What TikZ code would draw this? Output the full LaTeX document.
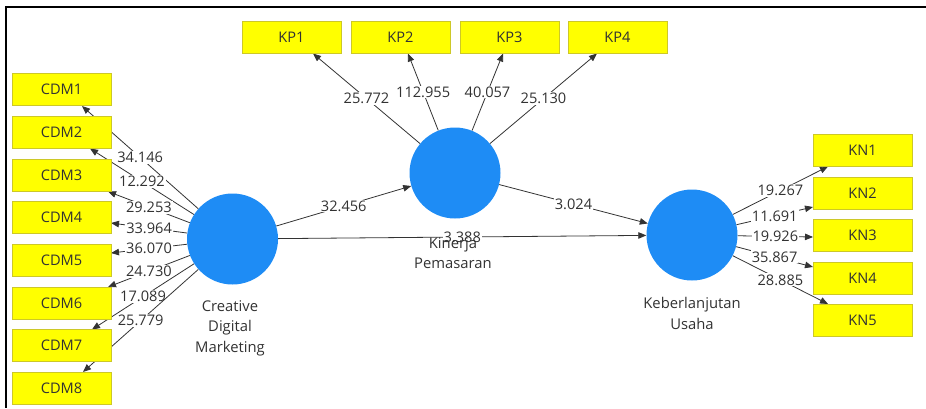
\documentclass[tikz,border=0pt]{standalone}
\usepackage{fontspec}
\setmainfont{Open Sans}
\usetikzlibrary{arrows.meta}
\definecolor{lvblue}{RGB}{30,140,245}
\definecolor{boxyellow}{RGB}{255,255,0}
\definecolor{boxedge}{RGB}{205,200,40}
\definecolor{txt}{RGB}{50,50,50}
\pgfdeclarelayer{bg}
\pgfsetlayers{bg,main}
\begin{document}
\begin{tikzpicture}[x=1pt,y=-1pt,
 ind/.style={draw=boxedge, fill=boxyellow, line width=0.8pt, minimum width=99pt, minimum height=32pt, inner sep=0pt, text=txt, font=\fontsize{14.6}{16}\selectfont},
 lv/.style={circle, fill=lvblue, minimum size=91pt, inner sep=0pt},
 lvname/.style={align=center, text=txt, font=\fontsize{14.8}{20.5}\selectfont},
 conn/.style={draw=black!80, line width=0.8pt, -{Triangle[length=8pt,width=6.5pt]}},
 val/.style={fill=white, inner sep=1pt, text=txt, font=\fontsize{14.6}{16}\selectfont},
]
\useasboundingbox (0,0) rectangle (926,408);
% frame
\draw[line width=2.5pt] (926,7) -- (6,7) -- (6,408);

% indicator boxes
\node[ind] (cdm1) at (61.5,89.5) {CDM1};
\node[ind] (cdm2) at (61.5,132.2) {CDM2};
\node[ind] (cdm3) at (61.5,174.9) {CDM3};
\node[ind] (cdm4) at (61.5,217.6) {CDM4};
\node[ind] (cdm5) at (61.5,260.3) {CDM5};
\node[ind] (cdm6) at (61.5,303) {CDM6};
\node[ind] (cdm7) at (61.5,345.7) {CDM7};
\node[ind] (cdm8) at (61.5,388.4) {CDM8};

\node[ind] (kp1) at (291.5,37) {KP1};
\node[ind] (kp2) at (400.5,37) {KP2};
\node[ind] (kp3) at (509.5,37) {KP3};
\node[ind] (kp4) at (617.5,37) {KP4};

\node[ind] (kn1) at (862.5,150) {KN1};
\node[ind] (kn2) at (862.5,193) {KN2};
\node[ind] (kn3) at (862.5,235) {KN3};
\node[ind] (kn4) at (862.5,278) {KN4};
\node[ind] (kn5) at (862.5,320) {KN5};

% latent variables
\node[lv] (cdm) at (232.5,239) {};
\node[lv] (kp) at (455,173) {};
\node[lv] (ku) at (692,235) {};

% arrow end points on the boxes
\coordinate (c1) at (82,106);
\coordinate (c2) at (90,148.5);
\coordinate (c3) at (108,191.5);
\coordinate (c4) at (111,223);
\coordinate (c5) at (111,253);
\coordinate (c6) at (108,287);
\coordinate (c7) at (92,329.5);
\coordinate (c8) at (83,372);
\coordinate (p1) at (313,53.5);
\coordinate (p2) at (408,53.5);
\coordinate (p3) at (503,53.5);
\coordinate (p4) at (597,53.5);
\coordinate (n1) at (828,166.5);
\coordinate (n2) at (813,207);
\coordinate (n3) at (813,237);
\coordinate (n4) at (813,267);
\coordinate (n5) at (828,304);

\begin{pgfonlayer}{bg}
\draw[conn] (cdm) -- node[val] {34.146} (c1);
\draw[conn] (cdm) -- node[val] {12.292} (c2);
\draw[conn] (cdm) -- node[val] {29.253} (c3);
\draw[conn] (cdm) -- node[val] {33.964} (c4);
\draw[conn] (cdm) -- node[val] {36.070} (c5);
\draw[conn] (cdm) -- node[val] {24.730} (c6);
\draw[conn] (cdm) -- node[val] {17.089} (c7);
\draw[conn] (cdm) -- node[val] {25.779} (c8);

\draw[conn] (kp) -- node[val] {25.772} (p1);
\draw[conn] (kp) -- node[val] {112.955} (p2);
\draw[conn] (kp) -- node[val] {40.057} (p3);
\draw[conn] (kp) -- node[val] {25.130} (p4);

\draw[conn] (ku) -- node[val] {19.267} (n1);
\draw[conn] (ku) -- node[val] {11.691} (n2);
\draw[conn] (ku) -- node[val] {19.926} (n3);
\draw[conn] (ku) -- node[val] {35.867} (n4);
\draw[conn] (ku) -- node[val] {28.885} (n5);

\draw[conn] (cdm) -- node[val] {32.456} (kp);
\draw[conn] (cdm) -- node[val] {3.388} (ku);
\draw[conn] (kp) -- node[val] {3.024} (ku);
\end{pgfonlayer}

% latent variable names
\node[lvname] (ncdm) at (230,328) {Creative\\Digital\\Marketing};
\node[lvname] (nkp) at (453,253) {Kinerja\\Pemasaran};
\node[lvname] (nku) at (692,313.5) {Keberlanjutan\\Usaha};
\end{tikzpicture}
\end{document}
